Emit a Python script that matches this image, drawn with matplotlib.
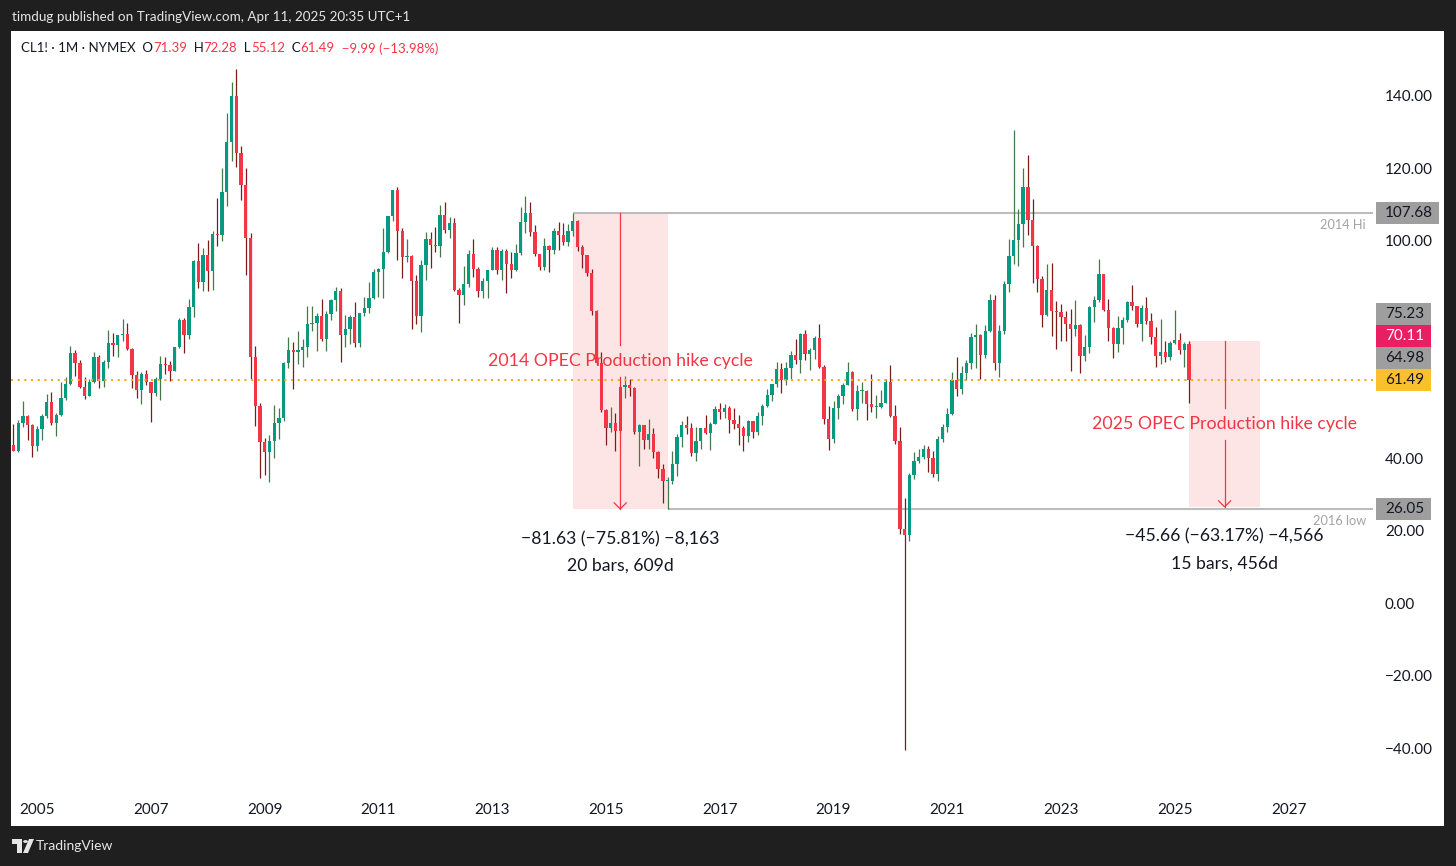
import matplotlib
matplotlib.use('Agg')
import matplotlib.pyplot as plt
import matplotlib.transforms as mtransforms
from matplotlib.patches import Rectangle, Polygon, Circle
import numpy as np

plt.rcParams['font.family'] = ['Lato', 'DejaVu Sans']

# CL1! monthly candles, Jul 2004 .. Apr 2025 (one row per year)
opens = [
    37.05, 43.80, 42.12, 49.64, 51.76, 49.13,
    43.45, 48.20, 51.75, 55.40, 49.72, 51.97, 56.50, 60.57, 68.94, 66.24, 59.76, 57.32,
    61.04, 67.92, 61.41, 66.63, 71.88, 71.29, 73.93, 74.40, 70.26, 62.91, 58.73, 63.13,
    61.05, 58.14, 61.79, 65.87, 65.71, 64.01, 70.68, 78.21, 74.04, 81.66, 94.53, 88.71,
    95.98, 91.75, 101.84, 101.58, 113.46, 127.35, 140.00, 124.08, 115.46, 100.64, 67.81, 54.43,
    44.60, 41.68, 44.76, 49.66, 51.12, 66.31, 69.89, 69.45, 69.96, 70.61, 77.00, 77.28,
    79.36, 72.89, 79.66, 83.76, 86.15, 73.97, 75.63, 78.95, 71.92, 79.97, 81.43, 84.11,
    91.38, 92.19, 96.97, 106.72, 113.93, 102.70, 95.42, 95.70, 88.81, 79.20, 93.19, 100.36,
    98.83, 98.48, 107.07, 103.02, 104.87, 86.53, 84.96, 88.06, 96.47, 92.19, 86.24, 88.91,
    91.82, 97.49, 92.05, 97.23, 93.46, 91.97, 96.56, 105.03, 107.65, 102.33, 96.38, 92.72,
    98.42, 97.49, 102.59, 101.58, 99.74, 102.71, 105.37, 98.17, 95.96, 91.16, 80.54, 66.15,
    53.27, 48.24, 49.76, 47.60, 59.63, 60.30, 59.47, 47.12, 49.20, 45.09, 46.59, 41.65,
    37.04, 33.62, 33.75, 38.34, 45.92, 49.10, 48.33, 41.60, 44.70, 48.24, 46.86, 49.44,
    53.72, 52.81, 54.01, 50.60, 49.33, 48.32, 46.04, 50.17, 47.23, 51.67, 54.38, 57.40,
    60.42, 64.73, 61.64, 64.94, 68.57, 67.04, 74.15, 68.76, 69.80, 73.25, 65.31, 50.93,
    45.41, 53.79, 57.22, 60.14, 63.91, 53.50, 58.47, 58.58, 55.10, 54.07, 54.18, 55.17,
    61.06, 51.56, 44.76, 20.48, 18.84, 35.49, 39.27, 40.27, 42.61, 40.22, 35.79, 45.34,
    48.52, 52.20, 61.50, 59.16, 63.58, 66.32, 73.47, 73.95, 68.50, 75.03, 83.57, 66.18,
    75.21, 88.15, 95.72, 100.28, 104.69, 114.67, 105.76, 98.62, 89.55, 79.49, 86.53, 80.55,
    80.26, 78.87, 77.05, 75.67, 76.78, 68.09, 70.64, 81.80, 83.63, 90.79, 81.02, 75.96,
    71.65, 75.85, 78.26, 83.17, 81.93, 76.99, 81.54, 77.91, 73.55, 68.17, 69.26, 68.00,
    71.72, 72.53, 69.76, 71.39,
]
highs = [
    44.34, 49.40, 50.47, 55.67, 52.00, 49.50,
    49.00, 52.20, 57.60, 58.30, 52.40, 60.95, 62.30, 70.85, 70.00, 67.20, 62.50, 61.90,
    69.20, 68.40, 67.10, 75.35, 74.60, 73.95, 78.40, 77.30, 70.40, 64.20, 63.70, 64.40,
    61.10, 62.30, 68.10, 67.90, 66.70, 70.70, 78.80, 78.80, 83.90, 94.70, 99.30, 97.90,
    100.09, 102.59, 111.80, 119.93, 135.09, 143.67, 147.27, 126.22, 120.00, 102.00, 71.00, 55.20,
    45.50, 46.40, 54.70, 54.00, 66.55, 73.38, 72.00, 75.00, 72.90, 82.00, 82.00, 80.00,
    83.95, 80.50, 83.90, 87.20, 87.00, 79.40, 79.60, 83.00, 80.00, 84.40, 88.60, 92.10,
    92.60, 103.40, 106.90, 114.00, 114.80, 103.40, 100.60, 96.00, 90.50, 94.60, 102.40, 102.40,
    103.74, 109.95, 110.55, 106.40, 106.30, 86.90, 92.90, 97.40, 100.40, 92.80, 89.60, 91.80,
    98.20, 98.20, 97.80, 97.80, 97.00, 99.05, 109.30, 112.20, 110.70, 104.30, 96.40, 100.75,
    98.70, 103.60, 105.20, 104.99, 104.50, 107.68, 105.80, 98.70, 96.00, 92.30, 80.90, 69.40,
    53.55, 54.24, 52.48, 59.90, 62.58, 61.96, 59.73, 49.34, 49.30, 50.92, 48.36, 42.00,
    38.39, 34.82, 41.90, 46.78, 50.21, 51.67, 49.67, 48.75, 48.35, 51.93, 49.95, 54.51,
    55.24, 54.94, 54.45, 53.76, 52.00, 48.95, 50.43, 50.22, 52.86, 54.86, 59.05, 60.51,
    66.66, 66.40, 66.66, 69.56, 72.90, 74.46, 75.27, 70.32, 73.84, 76.90, 65.70, 54.55,
    55.75, 57.81, 60.73, 66.60, 64.00, 60.12, 60.94, 58.82, 63.38, 57.47, 58.74, 61.76,
    65.65, 54.66, 48.66, 29.13, 35.98, 41.63, 42.51, 43.78, 43.43, 41.95, 46.26, 49.43,
    53.93, 63.81, 67.98, 65.47, 67.00, 74.45, 76.98, 74.35, 76.67, 85.41, 84.97, 76.85,
    88.84, 100.54, 130.50, 108.82, 119.98, 123.68, 111.45, 98.78, 90.39, 93.64, 93.74, 83.34,
    82.66, 80.62, 81.04, 83.53, 76.92, 74.00, 82.04, 84.89, 95.03, 90.90, 83.94, 76.18,
    79.29, 79.06, 83.30, 87.67, 81.95, 82.38, 84.52, 80.15, 76.12, 78.46, 72.26, 72.36,
    80.77, 74.43, 72.04, 72.28,
]
lows = [
    37.10, 42.00, 41.80, 48.60, 45.00, 40.25,
    42.10, 45.00, 51.20, 49.30, 46.20, 51.80, 56.00, 60.10, 62.80, 59.30, 56.30, 57.30,
    60.80, 59.50, 59.60, 65.00, 68.20, 68.00, 72.40, 69.90, 59.50, 56.60, 54.90, 60.10,
    49.90, 57.20, 56.00, 63.20, 61.40, 64.00, 70.30, 69.00, 72.90, 79.10, 87.00, 86.00,
    86.11, 86.52, 98.65, 100.00, 109.60, 122.00, 120.42, 111.34, 90.51, 62.00, 49.00, 34.60,
    35.40, 33.55, 40.00, 45.30, 50.20, 65.00, 59.05, 66.00, 65.05, 68.00, 75.20, 69.50,
    72.40, 69.50, 78.20, 80.60, 66.50, 70.80, 71.40, 70.80, 70.80, 79.30, 80.20, 84.00,
    84.60, 84.10, 96.60, 105.50, 94.60, 89.60, 94.00, 75.70, 77.10, 74.95, 89.20, 92.50,
    97.00, 95.40, 102.20, 100.70, 86.10, 77.30, 82.30, 87.30, 90.00, 84.60, 84.10, 84.10,
    91.80, 90.90, 89.30, 85.60, 89.85, 91.60, 96.00, 102.20, 101.40, 95.80, 91.80, 91.80,
    91.24, 96.40, 97.40, 98.70, 98.60, 101.40, 97.10, 92.50, 90.40, 79.40, 65.70, 52.70,
    43.58, 47.36, 42.03, 47.05, 56.51, 57.30, 46.68, 37.75, 42.58, 42.58, 40.00, 34.53,
    27.56, 26.05, 32.80, 35.24, 43.03, 46.69, 40.57, 39.19, 42.52, 46.63, 42.20, 49.35,
    50.71, 51.22, 47.09, 48.18, 43.76, 42.05, 44.37, 45.58, 46.56, 49.10, 54.20, 55.82,
    59.62, 58.07, 60.15, 61.84, 66.03, 63.59, 67.03, 64.43, 67.35, 64.84, 49.41, 42.36,
    44.35, 50.85, 55.07, 60.10, 53.05, 50.60, 55.15, 50.52, 52.81, 50.99, 54.01, 55.17,
    51.34, 44.00, 19.27, -40.32, 17.27, 34.36, 38.72, 39.70, 36.13, 34.92, 33.64, 44.42,
    47.18, 51.93, 57.25, 57.63, 61.56, 64.57, 65.01, 61.74, 67.58, 74.96, 64.43, 62.43,
    74.27, 85.73, 93.53, 92.93, 98.20, 101.53, 88.23, 85.73, 76.25, 79.32, 73.60, 70.08,
    72.46, 72.25, 64.12, 73.84, 63.57, 66.80, 69.05, 77.59, 83.06, 80.63, 72.37, 67.71,
    69.28, 71.41, 77.56, 81.03, 76.20, 72.48, 76.96, 71.46, 65.27, 66.01, 66.57, 67.02,
    71.60, 68.71, 65.22, 55.12,
]
closes = [
    43.80, 42.12, 49.64, 51.76, 49.13, 43.45,
    48.20, 51.75, 55.40, 49.72, 51.97, 56.50, 60.57, 68.94, 66.24, 59.76, 57.32, 61.04,
    67.92, 61.41, 66.63, 71.88, 71.29, 73.93, 74.40, 70.26, 62.91, 58.73, 63.13, 61.05,
    58.14, 61.79, 65.87, 65.71, 64.01, 70.68, 78.21, 74.04, 81.66, 94.53, 88.71, 95.98,
    91.75, 101.84, 101.58, 113.46, 127.35, 140.00, 124.08, 115.46, 100.64, 67.81, 54.43, 44.60,
    41.68, 44.76, 49.66, 51.12, 66.31, 69.89, 69.45, 69.96, 70.61, 77.00, 77.28, 79.36,
    72.89, 79.66, 83.76, 86.15, 73.97, 75.63, 78.95, 71.92, 79.97, 81.43, 84.11, 91.38,
    92.19, 96.97, 106.72, 113.93, 102.70, 95.42, 95.70, 88.81, 79.20, 93.19, 100.36, 98.83,
    98.48, 107.07, 103.02, 104.87, 86.53, 84.96, 88.06, 96.47, 92.19, 86.24, 88.91, 91.82,
    97.49, 92.05, 97.23, 93.46, 91.97, 96.56, 105.03, 107.65, 102.33, 96.38, 92.72, 98.42,
    97.49, 102.59, 101.58, 99.74, 102.71, 105.37, 98.17, 95.96, 91.16, 80.54, 66.15, 53.27,
    48.24, 49.76, 47.60, 59.63, 60.30, 59.47, 47.12, 49.20, 45.09, 46.59, 41.65, 37.04,
    33.62, 33.75, 38.34, 45.92, 49.10, 48.33, 41.60, 44.70, 48.24, 46.86, 49.44, 53.72,
    52.81, 54.01, 50.60, 49.33, 48.32, 46.04, 50.17, 47.23, 51.67, 54.38, 57.40, 60.42,
    64.73, 61.64, 64.94, 68.57, 67.04, 74.15, 68.76, 69.80, 73.25, 65.31, 50.93, 45.41,
    53.79, 57.22, 60.14, 63.91, 53.50, 58.47, 58.58, 55.10, 54.07, 54.18, 55.17, 61.06,
    51.56, 44.76, 20.48, 18.84, 35.49, 39.27, 40.27, 42.61, 40.22, 35.79, 45.34, 48.52,
    52.20, 61.50, 59.16, 63.58, 66.32, 73.47, 73.95, 68.50, 75.03, 83.57, 66.18, 75.21,
    88.15, 95.72, 100.28, 104.69, 114.67, 105.76, 98.62, 89.55, 79.49, 86.53, 80.55, 80.26,
    78.87, 77.05, 75.67, 76.78, 68.09, 70.64, 81.80, 83.63, 90.79, 81.02, 75.96, 71.65,
    75.85, 78.26, 83.17, 81.93, 76.99, 81.54, 77.91, 73.55, 68.17, 69.26, 68.00, 71.72,
    72.53, 69.76, 71.48, 61.49,
]
first_bar = (2004, 7)

year_labels = list(range(2005, 2028, 2))
price_ticks = [-40, -20, 0, 20, 40, 100, 120, 140]   # 60 / 80 hidden by the price tags

# price range drawings
box_start = [(2014, 6), (2025, 4)]
box_end = [(2016, 2), (2026, 7)]
box_top = [107.68, 72.28]
box_bottom = [26.05, 26.62]
box_titles = ['2014 OPEC Production hike cycle', '2025 OPEC Production hike cycle']
box_bars = [20, 15]
box_days = ['609d', '456d']

# horizontal lines
hline_values = [107.68, 26.05]
hline_start = [(2014, 6), (2016, 2)]
hline_texts = ['2014 Hi', '2016 low']

# tags on the price scale
tag_values = [107.68, 75.23, 70.11, 64.98, 61.49, 26.05]
tag_colors = ['#9e9e9e', '#9e9e9e', '#e91e63', '#9e9e9e', '#fbc02d', '#9e9e9e']
tag_text_colors = ['#131722', '#131722', 'white', '#131722', '#131722', '#131722']

UP = '#089981'
DOWN = '#f23645'
UP_WICK = '#46784a'
DOWN_WICK = '#7d1a1a'
TEXT = '#131722'

W, H = 1456, 866
# screen calibration (pixels)
PANE_L, PANE_R, PANE_T, PANE_B = 11, 1373, 31, 792
X_JAN2005, PX_BAR = 37.2, 4.74
Y_ZERO, PX_UNIT = 603.4, 3.627


def bar_of(ym):
    return (ym[0] - 2005) * 12 + ym[1] - 1


def fx(px):
    return px / W


def fy(py):
    return 1 - py / H


def minus(s):
    return s.replace('-', '\u2212')


o = np.array(opens)
h = np.array(highs)
l = np.array(lows)
c = np.array(closes)
bars = bar_of(first_bar) + np.arange(len(c))

fig = plt.figure(figsize=(W / 100, H / 100), dpi=100, facecolor='#1f1f1f')
fig.patches.append(Rectangle((fx(11), fy(826)), fx(1444) - fx(11), fy(31) - fy(826),
                             transform=fig.transFigure, facecolor='white', edgecolor='none',
                             zorder=-10))

ax = fig.add_axes([fx(PANE_L), fy(PANE_B), fx(PANE_R) - fx(PANE_L), fy(PANE_T) - fy(PANE_B)])
ax.set_facecolor('none')
ax.set_xlim((PANE_L - X_JAN2005) / PX_BAR, (PANE_R - X_JAN2005) / PX_BAR)
ax.set_ylim((Y_ZERO - PANE_B) / PX_UNIT, (Y_ZERO - PANE_T) / PX_UNIT)
for s in ax.spines.values():
    s.set_visible(False)

# candles
up = c >= o
ax.vlines(bars, l, h, colors=np.where(up, UP_WICK, DOWN_WICK), linewidth=0.9, zorder=2)
body_lo = np.minimum(o, c)
body_h = np.maximum(np.abs(c - o), 0.3)
ax.bar(bars, body_h, bottom=body_lo, width=0.7, color=np.where(up, UP, DOWN),
       linewidth=0, zorder=3)

# last price line
ax.axhline(c[-1], color='#f9a825', lw=1.5, linestyle=(0, (1, 2.2)), zorder=4)

# 2014 hi / 2016 low lines
x_right = ax.get_xlim()[1]
for v, st, t in zip(hline_values, hline_start, hline_texts):
    ax.plot([bar_of(st), x_right], [v, v], color='#bcbcbc', lw=1.5, zorder=1.5,
            solid_capstyle='butt')
    ax.annotate(t, xy=(x_right, v), xytext=(-7, -6), textcoords='offset pixels',
                ha='right', va='top', fontsize=9.2, color='#a3a3a3')

# price range boxes
gap = 16 / PX_UNIT
for s0, s1, top, bot, title, nb, days in zip(box_start, box_end, box_top, box_bottom,
                                            box_titles, box_bars, box_days):
    x0, x1 = bar_of(s0), bar_of(s1)
    cx = (x0 + x1) / 2
    mid = (top + bot) / 2
    ax.add_patch(Rectangle((x0, bot), x1 - x0, top - bot, facecolor=DOWN, alpha=0.13,
                           edgecolor='none', zorder=1))
    ax.plot([cx, cx], [top, mid + gap], color=DOWN, lw=0.9, zorder=5)
    ax.plot([cx, cx], [mid - gap, bot], color=DOWN, lw=0.9, zorder=5)
    ax.plot([cx - 6 / PX_BAR, cx, cx + 6 / PX_BAR], [bot + 6 / PX_UNIT, bot, bot + 6 / PX_UNIT],
            color=DOWN, lw=0.9, zorder=5)
    ax.text(cx, mid, title, ha='center', va='center', color=DOWN, fontsize=12.8, zorder=6)
    diff = bot - top
    line1 = minus(f'{diff:.2f} ({diff / top * 100:.2f}%) {diff * 100:,.0f}')
    ax.annotate(line1, xy=(cx, bot), xytext=(0, -30), textcoords='offset pixels',
                ha='center', va='center', fontsize=12.7, color=TEXT)
    ax.annotate(f'{nb} bars, {days}', xy=(cx, bot), xytext=(0, -57), textcoords='offset pixels',
                ha='center', va='center', fontsize=12.7, color=TEXT)

# axes ticks
ax.set_xticks([(y - 2005) * 12 for y in year_labels])
ax.set_xticklabels([str(y) for y in year_labels])
ax.yaxis.tick_right()
ax.set_yticks(price_ticks)
ax.set_yticklabels([minus(f'{v:.2f}') for v in price_ticks])
ax.tick_params(axis='both', length=0, labelsize=11, labelcolor=TEXT)
ax.tick_params(axis='x', pad=8)
ax.tick_params(axis='y', pad=8.5)

# price tags, pushed up so they do not overlap
trans = mtransforms.blended_transform_factory(fig.transFigure, ax.transData)
tag_h = 22 / PX_UNIT
placed = {}
prev = None
for i in np.argsort(tag_values):
    y = tag_values[i]
    if prev is not None and y < prev + tag_h:
        y = prev + tag_h
    placed[i] = y
    prev = y
for i, v in enumerate(tag_values):
    y = placed[i]
    txt = f'{v:.2f}'
    wpx = 15 + 8 * len(txt)
    ax.add_patch(Rectangle((fx(1375.7), y - tag_h / 2), fx(wpx), tag_h, transform=trans,
                           facecolor=tag_colors[i], edgecolor='none', clip_on=False, zorder=7))
    ax.text(fx(1385), y, txt, transform=trans, ha='left', va='center', fontsize=11,
            color=tag_text_colors[i], clip_on=False, zorder=8)

# header and legend
fig.text(fx(12), fy(16.7), 'timdug published on TradingView.com, Apr 11, 2025 20:35 UTC+1',
         color='#e6e6e6', fontsize=9.7, va='center', ha='left')

chg = c[-1] - c[-2]
pieces = [('CL1! \u00b7 1M \u00b7 NYMEX  O', TEXT), (f'{o[-1]:.2f}', DOWN),
          ('  H', TEXT), (f'{h[-1]:.2f}', DOWN), ('  L', TEXT), (f'{l[-1]:.2f}', DOWN),
          ('  C', TEXT), (f'{c[-1]:.2f}', DOWN),
          (minus(f'  {chg:.2f} ({chg / c[-2] * 100:.2f}%)'), DOWN)]
prev_t = ax.text(fx(21), fy(48.3), pieces[0][0], color=pieces[0][1], fontsize=9.5,
                 va='center', ha='left', transform=fig.transFigure)
for s, col in pieces[1:]:
    prev_t = ax.annotate(s, xy=(1, 0.5), xycoords=prev_t, va='center', ha='left',
                         fontsize=9.5, color=col, annotation_clip=False)

# TradingView logo
fig.patches.append(Polygon([(fx(12), fy(839)), (fx(22), fy(839)), (fx(22), fy(853)),
                            (fx(17), fy(853)), (fx(17), fy(844)), (fx(12), fy(844))],
                           closed=True, transform=fig.transFigure, facecolor='#e6e6e6'))
fig.patches.append(Circle((fx(25.5), fy(841.5)), 2.4 / W, transform=fig.transFigure,
                          facecolor='#e6e6e6'))
fig.patches.append(Polygon([(fx(23), fy(853)), (fx(28), fy(853)), (fx(34), fy(839)),
                            (fx(29), fy(839))], closed=True, transform=fig.transFigure,
                           facecolor='#e6e6e6'))
fig.text(fx(36), fy(846), 'TradingView', color='#e6e6e6', fontsize=10, va='center', ha='left')

fig.savefig('out.png', dpi=100, facecolor=fig.get_facecolor())
